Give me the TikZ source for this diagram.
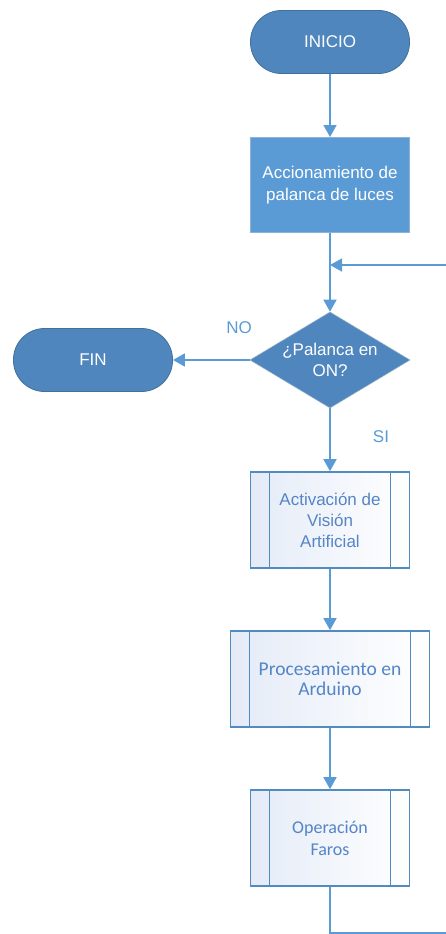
\documentclass[tikz,border=0pt]{standalone}
\usepackage{fontspec}
\setmainfont{Liberation Sans}
\newfontfamily\calibrifont{Carlito}
\usepackage{xcolor}
\definecolor{fcdark}{RGB}{79,134,189}
\definecolor{fcdarkline}{RGB}{65,113,156}
\definecolor{fcmid}{RGB}{91,155,213}
\definecolor{fcmidline}{RGB}{140,178,216}
\definecolor{fcline}{RGB}{91,155,213}
\definecolor{fctext}{RGB}{84,133,198}
\definecolor{fcpale}{RGB}{228,235,247}
\usetikzlibrary{arrows.meta, positioning, shapes.geometric}

\tikzset{
  terminal/.style={draw=fcdarkline, fill=fcdark, line width=0.8pt, rounded corners=31pt,
    minimum width=159pt, minimum height=63pt, text=white, font=\fontsize{17}{21}\selectfont},
  processbox/.style={draw=fcmidline, fill=fcmid, line width=1pt,
    minimum width=159pt, minimum height=95pt, text=white, align=center,
    font=\fontsize{17}{21.5}\selectfont},
  decision/.style={diamond, aspect=1.66, draw=fcdarkline!60, fill=fcdark, line width=0.6pt,
    inner sep=0pt, minimum width=160pt, minimum height=96pt, text=white, align=center,
    font=\fontsize{17}{21.5}\selectfont},
  subproc/.style={draw=fcline!90!black, line width=1.6pt, left color=fcpale, right color=white,
    minimum height=96pt, text=fctext, align=center,
    path picture={
      \draw[fcline!90!black, line width=1.6pt]
        ([xshift=19pt]path picture bounding box.north west) -- ([xshift=19pt]path picture bounding box.south west)
        ([xshift=-19pt]path picture bounding box.north east) -- ([xshift=-19pt]path picture bounding box.south east);
    }},
  flow/.style={draw=fcline, line width=1.6pt, -{Triangle[width=13pt,length=12pt]}},
  flowplain/.style={draw=fcline, line width=1.6pt},
  tag/.style={text=fcline, font=\fontsize{17}{21}\selectfont}
}

\begin{document}
\begin{tikzpicture}[x=1pt, y=-1pt]
  \useasboundingbox (0,0) rectangle (446,934);

  % main column
  \node[terminal] (inicio) at (330,42) {INICIO};
  \node[processbox] (palanca) at (330,185) {Accionamiento de\\palanca de luces};
  \node[decision] (pregunta) at (330,360) {¿Palanca en\\ON?};
  \node[terminal] (fin) at (93,360) {FIN};
  \node[subproc, minimum width=159pt, font=\fontsize{17}{21}\selectfont] (vision) at (330,520)
    {Activación de\\Visión\\Artificial};
  \node[subproc, minimum width=199pt, font=\calibrifont\fontsize{19.5}{20.5}\selectfont] (arduino) at (330,679)
    {Procesamiento en\\Arduino};
  \node[subproc, minimum width=159pt, font=\calibrifont\fontsize{18}{22}\selectfont] (faros) at (330,838)
    {Operación\\Faros};

  % labels
  \node[tag] (lblno) at (239,328) {NO};
  \node[tag] (lblsi) at (381,437) {SI};

  % connectors
  \coordinate (merge) at (330,265);
  \coordinate (loopa) at (330,933);
  \coordinate (loopb) at (448,933);
  \coordinate (loopc) at (448,265);
  \draw[flow] (inicio) -- (palanca);
  \draw[flow] (palanca) -- (pregunta);
  \draw[flow] (pregunta) -- (fin);
  \draw[flow] (pregunta) -- (vision);
  \draw[flow] (vision) -- (arduino);
  \draw[flow] (arduino) -- (faros);
  \draw[flowplain] (faros) -- (loopa) -- (loopb) -- (loopc);
  \draw[flow] (loopc) -- (merge);
\end{tikzpicture}
\end{document}
